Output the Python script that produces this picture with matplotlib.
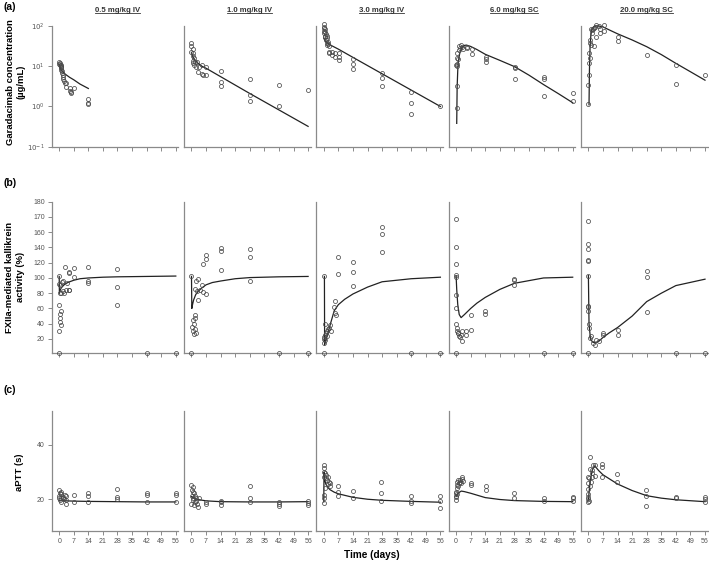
import numpy as np
import matplotlib
matplotlib.use("Agg")
import matplotlib.pyplot as plt
from matplotlib.lines import Line2D
from matplotlib.ticker import NullLocator

plt.rcParams['font.family'] = ['Liberation Sans', 'DejaVu Sans']

doses = ['0.5 mg/kg IV', '1.0 mg/kg IV', '3.0 mg/kg IV', '6.0 mg/kg SC', '20.0 mg/kg SC']
day_ticks = [0, 7, 14, 21, 28, 35, 42, 49, 56]

# ---- (a) garadacimab concentration (ug/mL), observed + model
pk_obs_days = [
    [0, 0.3, 0, 0.8, 0.3, 0.7, 0.8, 1.1, 1.0, 1.3, 1.3, 1.6, 1.9, 1.9, 2.3, 2.7, 3.2, 3.5, 5.1, 5.1, 5.5, 5.5, 7.1, 14, 14, 14],
    [0, 0, 0.5, 0, 0.8, 0.5, 1.1, 0.8, 0.5, 1.6, 1.1, 2.1, 2.7, 3.7, 3.2, 5, 5, 5.6, 7.2, 7.2, 14, 14, 14, 28, 28, 28, 42, 42, 56],
    [0, 0.3, 0, 0.5, 0.2, 0.8, 0.3, 1, 0.5, 1.3, 0.8, 1.5, 1.1, 1.8, 1.3, 2.1, 1.6, 2.4, 2.7, 2.3, 3.7, 3.7, 5.3, 5.3,
     7.2, 7.2, 7.2, 14, 14, 14, 28, 28, 28, 42, 42, 42, 56],
    [0.3, 0.3, 0.3, 0.6, 0.1, 1.1, 0.6, 0.6, 1.4, 1.9, 1.4, 2.2, 2.7, 3.5, 5.4, 5.4, 7.5, 7.5, 14.3, 14.3, 14.3,
     28.2, 28.2, 28.2, 42.3, 42.3, 42.3, 56, 56],
    [0, 0, 0.2, 0.5, 0.5, 0.9, 0.6, 0.9, 1.3, 1.6, 2.2, 2.5, 2.7, 3, 3.8, 3.5, 5.1, 5.4, 5.4, 7.3, 7.3, 14.2, 14.2,
     28.3, 42.3, 42.3, 56.2, 1.3, 1.9],
]
pk_obs_vals = [
    [13, 12.2, 11.5, 11, 10.5, 10, 9.5, 8.8, 8, 7.5, 6.8, 6, 5.3, 4.8, 4.3, 3.9, 3.9, 3.0, 2.9, 2.4, 2.2, 2.3, 2.8, 1.5, 1.2, 1.13],
    [38.5, 31.8, 26.3, 23, 20.9, 17.9, 15.7, 13.7, 11.8, 13, 10.7, 9.8, 13, 9.8, 7.3, 11, 6.4, 6.05, 6.05, 9.8,
     7.6, 4.1, 3.2, 4.9, 1.9, 1.4, 3.35, 1.03, 2.5],
    [110, 96, 90, 83, 76, 72, 66, 63, 58, 56, 52, 49, 45, 41, 38, 36, 33, 31, 23, 21, 23, 19, 21, 16.6,
     21, 16.6, 14.3, 14.8, 11.4, 8.7, 6.7, 5.2, 3.3, 2.25, 1.22, 0.65, 1.0],
    [0.9, 3.3, 10.3, 11.4, 11, 14.8, 15.7, 21.7, 25.3, 27.9, 31.8, 33.7, 30.6, 26.3, 29, 30.6, 26.3, 20.1, 17.3, 14.8, 13,
     9.8, 8.9, 4.7, 5.5, 4.8, 1.86, 2.2, 1.37],
    [1.13, 3.4, 6.05, 12.3, 20.9, 15.7, 37, 45, 33.7, 66, 84, 87.5, 32.5, 96, 106, 54, 100, 66, 83, 106, 77, 52, 43,
     19, 10.7, 3.7, 6.2, 83, 80],
]
pk_fit_days = [
    [0, 0.5, 1, 2, 3, 5, 7, 10, 14],
    [0, 0.5, 1, 2, 3, 5, 7, 14, 28, 42, 56],
    [0, 0.5, 1, 2, 3, 7, 14, 28, 42, 56],
    [0.3, 0.5, 0.8, 1, 1.5, 2, 3, 4, 5, 7, 10, 14, 21, 28, 35, 42, 49, 56],
    [0.3, 0.5, 0.8, 1.2, 1.6, 2.5, 3.5, 5, 7, 10, 14, 21, 28, 35, 42, 49, 56],
]
pk_fit_vals = [
    [11, 9, 8, 7, 6.3, 5.3, 4.6, 3.6, 2.8],
    [22, 18, 16, 13.5, 12, 10, 8.9, 5.5, 2.1, 0.82, 0.32],
    [50, 44, 41, 37, 34, 26.6, 16.6, 6.5, 2.55, 1.0],
    [0.38, 3, 8, 12, 18, 24, 30, 33, 33.5, 31, 26, 19.8, 14, 9.8, 6, 3.5, 2.1, 1.24],
    [1.1, 8, 30, 60, 80, 95, 100, 100, 95, 80, 64, 45, 30.6, 19.5, 11.8, 7.3, 4.5],
]

# ---- (b) FXIIa-mediated kallikrein activity (%), axis positions
pd_obs_days = [
    [0, 0, 0.3, 1.1, 1.6, 0.3, 2.7, 4.7, 4.9, 7.1, 7.1, 4.9, 3.1, 14, 14, 14, 28, 28, 28, 0, 0.3, 1.1, 0.3, 0.5,
     0.8, 0, 0, 42, 56, 1.3, 1.8, 2.3, 3.6, 4.8],
    [0, 2.1, 3.2, 5.1, 1.9, 2.7, 4.0, 5.6, 7.2, 3.2, 5.3, 7.2, 7.2, 14.1, 14.1, 14.1, 28, 28, 28, 1.6, 1.6, 0.5, 1,
     0.3, 1.5, 0.8, 2, 1.3, 0, 42, 56],
    [0.3, 7, 7, 14, 14, 14, 28, 28, 28, 5.6, 4.8, 5.3, 6.1, 0, 0.3, 0.5, 0.8, 1, 1.3, 1.6, 2, 2.5, 3, 3.5, 0.3,
     0.5, 0, 42, 56],
    [0, 0, 0, 0, 0, 0, 0, 28, 28, 28, 0, 0.5, 0.3, 0.8, 1.1, 1.5, 2, 2.5, 2.7, 3, 4.8, 4.8, 7, 7, 14, 14, 0, 42, 56],
    [0, 0, 0, 0, 0, 0, 0, 28, 28, 0, 0, 28, 0.6, 1.4, 2.2, 3, 3.8, 5.1, 7, 7, 14, 14, 0.3, 0.5, 0, 42, 56],
]
pd_obs_vals = [
    [102, 92, 91, 80, 96, 80, 115, 107.6, 106.3, 112.8, 101.9, 84.5, 83.6, 114.6, 96.3, 93.2, 111.1, 87.6, 64.9,
     64.9, 53.1, 56.1, 47.4, 42, 38, 30, 2, 2, 2, 95.3, 82.3, 80.2, 93.2, 84.5],
    [102, 95.4, 98.4, 91, 85.4, 82.3, 84.5, 81.4, 79.3, 71.4, 118.1, 130.3, 125.5, 139, 134.7, 110.7, 137.7, 127.3,
     95.9, 52, 48, 45, 40, 36, 33, 30, 28, 26, 2, 2, 2],
    [102, 127.3, 105.4, 120.3, 107.6, 88.9, 167.4, 157.8, 133.4, 69.3, 61.8, 54, 51.8, 20, 22, 25, 18, 28, 30, 24,
     33, 35, 38, 30, 15, 40, 2, 2, 2],
    [177.4, 140.3, 118.5, 104.1, 101.9, 78, 60.5, 98.8, 96.7, 91, 40, 35, 30, 28, 27.8, 24, 22, 25.6, 17.8, 30,
     25.6, 30, 32, 51.8, 56.1, 53.1, 2, 2, 2],
    [174.8, 145.1, 137.7, 123.7, 122.4, 103.2, 62.7, 108.5, 101.9, 61.8, 57, 55.3, 21.3, 23.4, 14.8, 12.5, 19, 16.9,
     27.8, 25.6, 32.2, 25.6, 40, 35, 2, 2, 2],
]
pd_fit_days = [
    [0, 0.1, 0.5, 1, 2, 3, 5, 7, 10, 14, 21, 28, 42, 56],
    [0, 0.15, 0.5, 1, 2, 3, 5, 7, 10, 14, 21, 28, 42, 56],
    [0.3, 0.4, 1, 2, 3, 5, 7, 10, 14, 21, 28, 42, 56],
    [0, 0.3, 0.8, 1.5, 2.4, 4, 7, 10, 14, 21, 28, 42, 56],
    [0, 0.3, 1, 2, 3, 5, 7, 10, 14, 21, 28, 35, 42, 56],
]
pd_fit_vals = [
    [102, 80, 84, 87, 90, 92.5, 95, 97, 99, 100, 101, 101.5, 102, 102.5],
    [102, 60, 65, 71, 78, 82, 87, 91, 94, 96, 99, 100.5, 101.5, 102],
    [102, 12, 18, 28, 38, 57, 65, 72, 79, 88, 95, 99, 101],
    [103, 85, 65, 52, 48, 52, 60, 67, 74.5, 85, 93, 100, 101],
    [103, 40, 20, 16, 15, 17, 22, 28, 35, 50, 69, 80, 90, 98.4],
]
pd_tick_pos = [20, 40, 60, 80, 100, 120, 140, 160, 180, 200]
pd_tick_lab = ['20', '40', '60', '80', '100', '120', '140', '160', '170', '180']

# ---- (c) aPTT (s)
ap_obs_days = [
    [0, 0.3, 0, 0.7, 1.1, 0, 0.3, 1.1, 1.9, 2.3, 2.7, 3.2, 3.2, 3.5, 7.1, 7.1, 14, 14, 14, 28, 28, 28, 42, 42, 42,
     56, 56, 56, 1.6, 0.8],
    [0, 0.5, 0.2, 0.8, 1.1, 0.2, 0.8, 0.5, 0, 1.6, 2.1, 2.4, 2.7, 3.2, 3.7, 1.6, 7.2, 7.2, 14, 14, 14, 28, 28, 28,
     42, 42, 42, 56, 56, 56, 1.3],
    [0, 0, 0, 0.4, 0.1, 0.9, 1.2, 1.5, 2, 2.5, 2.8, 2.8, 2, 0.4, 0, 0, 0, 6.8, 6.8, 6.8, 13.8, 13.8, 27.7, 27.7,
     27.7, 42, 42, 42, 56, 56, 56],
    [0, 0, 0, 0, 0, 0.3, 0.6, 0.6, 1.1, 1.1, 1.6, 1.9, 1.9, 2.4, 2.7, 3.0, 3.5, 7, 7, 14.4, 14.4, 28, 28, 42.3, 42.3,
     56, 56, 56, 0.3],
    [0.9, 0.6, 0, 0.3, 0, 0, 0, 0, 0, 0, 0.3, 0.9, 1.3, 1.6, 1.9, 1.9, 2.2, 3.0, 3.3, 6.7, 6.7, 6.7, 13.9, 13.9,
     27.9, 27.9, 27.9, 42.3, 42.3, 56.2, 56.2, 56.2],
]
ap_obs_vals = [
    [23.4, 22.2, 21.3, 22.8, 21.8, 20.4, 19.7, 19.1, 21, 20.1, 21.6, 19.7, 18.3, 21.3, 21.6, 18.9, 22.2, 21.2, 19.1,
     23.8, 21, 20.1, 22.2, 21.7, 19.1, 22.2, 21.7, 18.9, 20.4, 20.6],
    [25.3, 24.4, 23.4, 22.8, 22.2, 21.3, 20.6, 19.7, 18.1, 18.9, 19.5, 20.4, 18.1, 17.3, 20.4, 21.3, 19.1, 18.3,
     19.5, 18.8, 17.9, 24.7, 20.4, 19.1, 18.9, 18.3, 17.5, 19.4, 18.5, 17.7, 17.9],
    [32.6, 31.4, 30.2, 29.6, 28.3, 27.7, 29, 27.1, 28.3, 26.5, 25.9, 24.7, 25.6, 24, 21.6, 20.4, 18.5, 24.7, 22.6,
     21.3, 23.2, 20.6, 26.5, 22.4, 19.5, 21.3, 19.5, 18.5, 21.3, 19.5, 16.9],
    [22.8, 22.2, 21.3, 20.7, 19.7, 24, 25.3, 26.5, 27.1, 24.9, 25.9, 27.1, 26.5, 25.9, 27.5, 28.3, 26.7, 26.1, 25.3,
     24.7, 23.4, 22.2, 20.6, 20.4, 19.5, 21, 20.4, 19.5, 22],
    [35.7, 31, 28.3, 27.7, 25.9, 23.7, 22, 21, 20.1, 19.1, 19.5, 24.9, 26.5, 28.3, 29.6, 30.8, 32.6, 32.6, 28.6, 32.9,
     32, 28.3, 29.3, 26.5, 23.4, 21.3, 17.5, 21, 20.4, 21, 20.1, 19.1],
]
ap_fit_days = [
    [0, 7, 14, 28, 42, 56],
    [0, 1, 3, 7, 14, 28, 42, 56],
    [0, 0.1, 0.5, 1, 2, 3, 5, 7, 14, 21, 28, 42, 56],
    [0, 1, 2.5, 4, 7, 14, 21, 28, 42, 56],
    [0, 0.5, 1, 2, 3, 5, 7, 14, 21, 28, 35, 42, 56],
]
ap_fit_vals = [
    [19.5, 19.3, 19.2, 19.1, 19, 19],
    [21, 20.5, 19.9, 19.4, 19.1, 19, 19, 19.1],
    [19, 30, 27, 25.5, 24.3, 23.5, 22.6, 22, 20.7, 20, 19.6, 19.2, 18.9],
    [21, 22.3, 23, 22.8, 22.2, 20.6, 19.9, 19.5, 19.2, 19.1],
    [19.7, 24, 27.5, 31, 32.3, 30.5, 29, 25.6, 23.2, 21.3, 20.4, 19.8, 19.1],
]

W, H = 709, 562
fig = plt.figure(figsize=(W / 100, H / 100), dpi=100)

spine_c = '#8a8a8a'
tick_c = '#555555'
line_c = '#222222'
mark_c = '#4a4a4a'

rows = [
    (pk_obs_days, pk_obs_vals, pk_fit_days, pk_fit_vals, 146.7, 26.0),
    (pd_obs_days, pd_obs_vals, pd_fit_days, pd_fit_vals, 352.7, 201.7),
    (ap_obs_days, ap_obs_vals, ap_fit_days, ap_fit_vals, 531.0, 410.7),
]

axes = []
for r, (od, ov, fd, fv, ybot, ytop) in enumerate(rows):
    row_axes = []
    for i in range(5):
        left = (51.7 + 132.3 * i) / W
        ax = fig.add_axes([left, 1 - ybot / H, 126.6 / W, (ybot - ytop) / H])
        ax.plot(fd[i], fv[i], color=line_c, lw=0.9, zorder=2, clip_on=False)
        ax.plot(od[i], ov[i], ls='none', marker='o', ms=2.9, mfc='none', mec=mark_c, mew=0.55,
                zorder=3, clip_on=False)
        ax.set_xlim(-3.6, 57.2)
        ax.set_xticks(day_ticks)
        for s in ['top', 'right']:
            ax.spines[s].set_visible(False)
        for s in ['left', 'bottom']:
            ax.spines[s].set_color(spine_c)
            ax.spines[s].set_linewidth(0.9)
        ax.tick_params(colors=spine_c, labelcolor=tick_c, labelsize=5, length=3, width=0.7, pad=2)
        if r == 0:
            ax.set_yscale('log')
            ax.set_ylim(0.1, 100)
            ax.set_yticks([0.1, 1, 10, 100])
            ax.set_yticklabels(['$10^{-1}$', '$10^{0}$', '$10^{1}$', '$10^{2}$'])
            ax.yaxis.set_minor_locator(NullLocator())
        elif r == 1:
            ax.set_ylim(2, 200)
            ax.set_yticks(pd_tick_pos)
            ax.set_yticklabels(pd_tick_lab)
        else:
            ax.set_ylim(8.3, 52.6)
            ax.set_yticks([20, 40])
        if r < 2:
            ax.tick_params(axis='x', labelbottom=False)
        if i > 0:
            ax.tick_params(axis='y', left=False, labelleft=False)
        row_axes.append(ax)
    axes.append(row_axes)

# panel letters
for lab, y in [('(a)', 7), ('(b)', 183), ('(c)', 390)]:
    fig.text(3 / W, 1 - y / H, lab, fontsize=7.5, fontweight='bold', va='center', ha='left')

# y labels
fig.text(16 / W, 1 - 82 / H, 'Garadacimab concentration\n(µg/mL)', rotation=90, fontsize=6.8,
         fontweight='bold', ha='center', va='center', multialignment='center')
fig.text(15 / W, 1 - 277 / H, 'FXIIa-mediated kallikrein\nactivity (%)', rotation=90, fontsize=6.8,
         fontweight='bold', ha='center', va='center', multialignment='center')
fig.text(19 / W, 1 - 472 / H, 'aPTT (s)', rotation=90, fontsize=6.8,
         fontweight='bold', ha='center', va='center')
fig.text(372 / W, 1 - 555 / H, 'Time (days)', fontsize=7.2, fontweight='bold', ha='center', va='center')

# column titles, underlined
titles = []
for i, d in enumerate(doses):
    cx = (59.3 + 132.3 * i + 58) / W
    titles.append(fig.text(cx, 1 - 10 / H, d, fontsize=5.6, fontweight='bold', ha='center', va='center',
                           color='#333333'))
fig.canvas.draw()
rend = fig.canvas.get_renderer()
for t in titles:
    bb = t.get_window_extent(rend).transformed(fig.transFigure.inverted())
    fig.add_artist(Line2D([bb.x0, bb.x1], [bb.y0 + 0.001, bb.y0 + 0.001], color='#333333', lw=0.6))

fig.savefig('out.png', dpi=100)
